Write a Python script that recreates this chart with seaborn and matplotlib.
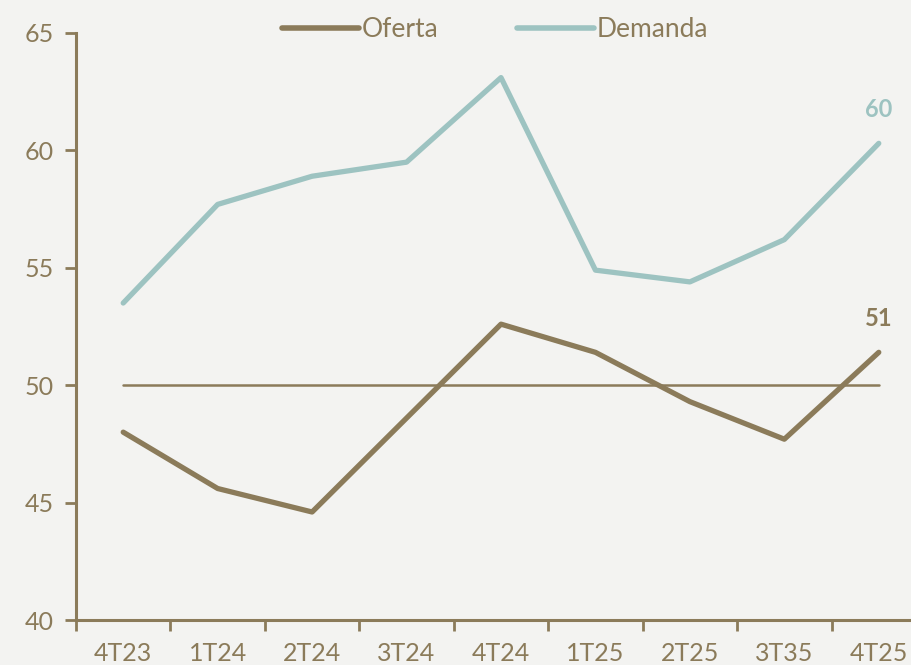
import matplotlib
matplotlib.use("Agg")
import matplotlib.pyplot as plt
import seaborn as sns
import pandas as pd

categories = ["4T23", "1T24", "2T24", "3T24", "4T24", "1T25", "2T25", "3T35", "4T25"]
oferta = [48.0, 45.6, 44.6, 48.6, 52.6, 51.4, 49.3, 47.7, 51.4]
demanda = [53.5, 57.7, 58.9, 59.5, 63.1, 54.9, 54.4, 56.2, 60.3]
reference_level = 50

BROWN = "#8B7B5A"
TEAL = "#9DC3C1"
BG = "#F3F3F1"

sns.set_theme(style="white")
plt.rcParams["font.family"] = ["Lato", "DejaVu Sans"]

df = pd.DataFrame({
    "cat": categories * 2,
    "x": list(range(len(categories))) * 2,
    "valor": oferta + demanda,
    "serie": ["Oferta"] * len(categories) + ["Demanda"] * len(categories),
})

fig = plt.figure(figsize=(9.12, 6.65), dpi=100, facecolor=BG)
ax = fig.add_axes([76 / 912, 45 / 665, 850 / 912, 587 / 665])
ax.set_facecolor(BG)

ax.plot([0, len(categories) - 1], [reference_level, reference_level], color=BROWN, lw=1.8, zorder=1)

sns.lineplot(data=df, x="x", y="valor", hue="serie", palette={"Oferta": BROWN, "Demanda": TEAL},
             linewidth=3.8, ax=ax, legend=True, zorder=3)
for l in ax.lines:
    l.set_solid_capstyle("round")
    l.set_solid_joinstyle("round")

ax.set_xlim(-0.5, len(categories) - 0.5)
ax.set_ylim(40, 65)
ax.set_yticks([40, 45, 50, 55, 60, 65])
ax.set_xticks([i - 0.5 for i in range(len(categories))])
ax.set_xticklabels([])
ax.set_xticks(range(len(categories)), minor=True)
ax.set_xticklabels(categories, minor=True, fontsize=18, color=BROWN)
ax.tick_params(axis="x", which="minor", length=0, pad=16, bottom=True)
ax.tick_params(axis="x", which="major", length=8, width=2, color=BROWN, direction="out", bottom=True)
ax.tick_params(axis="y", length=8, width=2, color=BROWN, direction="out", labelsize=18,
               labelcolor=BROWN, pad=8, left=True)
ax.set_xlabel("")
ax.set_ylabel("")
for s in ["top", "right"]:
    ax.spines[s].set_visible(False)
for s in ["left", "bottom"]:
    ax.spines[s].set_color(BROWN)
    ax.spines[s].set_linewidth(2.2)

last = len(categories) - 1
ax.annotate(f"{round(demanda[-1])}", (last, demanda[-1]), xytext=(0, 16), textcoords="offset points",
            ha="center", va="bottom", color=TEAL, fontsize=17, fontweight="bold")
ax.annotate(f"{round(oferta[-1])}", (last, oferta[-1]), xytext=(0, 16), textcoords="offset points",
            ha="center", va="bottom", color=BROWN, fontsize=17, fontweight="bold")

leg = ax.legend(loc="upper center", bbox_to_anchor=(0.493, 1.068), ncol=2, frameon=False,
                fontsize=19, handlelength=2.9, handletextpad=0.1, columnspacing=3.0)
for t in leg.get_texts():
    t.set_color(BROWN)
for h in leg.get_lines():
    h.set_linewidth(4)
    h.set_solid_capstyle("round")

fig.savefig("out.png", dpi=100, facecolor=BG)
